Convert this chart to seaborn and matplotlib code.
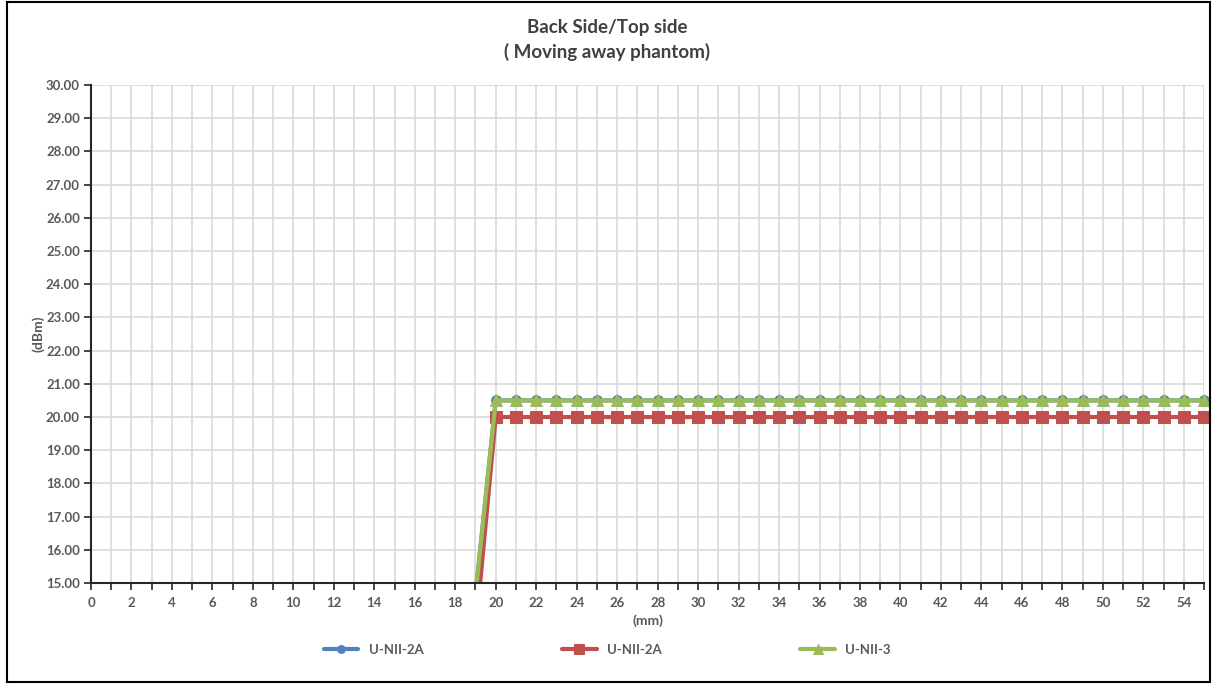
import numpy as np
import pandas as pd
import matplotlib
matplotlib.use("Agg")
import matplotlib.pyplot as plt
from matplotlib.ticker import MultipleLocator, FormatStrFormatter
import seaborn as sns

# distance (mm) and measured power (dBm); points before 20 mm sit below the axis
distance = list(range(19, 56))
unii2a_a = [14.65] + [20.5] * 36
unii2a_b = [13.5] + [20.0] * 36
unii3 = [14.65] + [20.5] * 36

series_names = ["U-NII-2A", "U-NII-2A ", "U-NII-3"]
series_values = [unii2a_a, unii2a_b, unii3]
colors = ["#4f81bd", "#c0504d", "#9bbb59"]
markers = ["o", "s", "^"]
msizes = [7, 8.5, 9]

sns.set_style("white")
plt.rcParams["font.family"] = ["Lato", "DejaVu Sans"]

fig = plt.figure(figsize=(12.15, 6.84), dpi=100)
ax = fig.add_axes([91 / 1215, 1 - 583 / 684, (1204 - 91) / 1215, (583 - 85) / 684])

for name, vals, c, m, ms in zip(series_names, series_values, colors, markers, msizes):
    df = pd.DataFrame({"mm": distance, "dBm": vals})
    sns.lineplot(data=df, x="mm", y="dBm", ax=ax, color=c, marker=m, markersize=ms,
                 markeredgecolor=c, linewidth=3, label=name)

# clip at the x axis, but let the last markers overhang the right edge
clip = plt.Rectangle((0, 0), 1.03, 1.0, transform=ax.transAxes, visible=False)
ax.add_patch(clip)
for line in ax.get_lines():
    line.set_clip_path(clip)

ax.set_xlim(0, 55)
ax.set_ylim(15, 30)

ax.xaxis.set_major_locator(MultipleLocator(2))
ax.xaxis.set_minor_locator(MultipleLocator(1))
ax.yaxis.set_major_locator(MultipleLocator(1))
ax.yaxis.set_major_formatter(FormatStrFormatter("%.2f"))
ax.grid(True, which="both", color="#d9d9d9", linewidth=1.2)
ax.set_axisbelow(True)

for s in ["top", "right"]:
    ax.spines[s].set_visible(False)
for s in ["left", "bottom"]:
    ax.spines[s].set_color("#262626")
    ax.spines[s].set_linewidth(1.5)
    ax.spines[s].set_zorder(6)

ax.tick_params(axis="x", which="both", direction="out", length=5, width=1.2, color="#262626",
               labelsize=9.5, labelcolor="#595959", pad=5, bottom=True)
ax.tick_params(axis="y", which="major", direction="out", length=5, width=1.2, color="#262626",
               labelsize=9.5, labelcolor="#595959", pad=3, left=True)
for lab in ax.get_xticklabels() + ax.get_yticklabels():
    lab.set_fontweight("bold")

ax.set_xlabel("(mm)", fontsize=10, fontweight="bold", color="#595959", labelpad=4)
ax.set_ylabel("(dBm)", fontsize=10, fontweight="bold", color="#595959", labelpad=1)

fig.text(0.5, 1 - 28 / 684, "Back Side/Top side", ha="center", va="center",
         fontsize=13.5, fontweight="bold", color="#404040")
fig.text(0.5, 1 - 52 / 684, "( Moving away phantom)", ha="center", va="center",
         fontsize=13.5, fontweight="bold", color="#404040")

ax.get_legend().remove()
handles = ax.get_lines()[:3]
leg = fig.legend(handles, ["U-NII-2A", "U-NII-2A", "U-NII-3"], loc="center",
                 bbox_to_anchor=(0.5, 1 - 650 / 684), ncol=3, frameon=False,
                 handlelength=2.6, columnspacing=10.5, fontsize=9.5, markerscale=0.8)
for t in leg.get_texts():
    t.set_fontweight("bold")
    t.set_color("#595959")

fig.patches.append(plt.Rectangle((7 / 1215, 2 / 684), 1203 / 1215, 680 / 684, transform=fig.transFigure,
                                 fill=False, edgecolor="black", linewidth=1.5))

fig.savefig("out.png", dpi=100)
